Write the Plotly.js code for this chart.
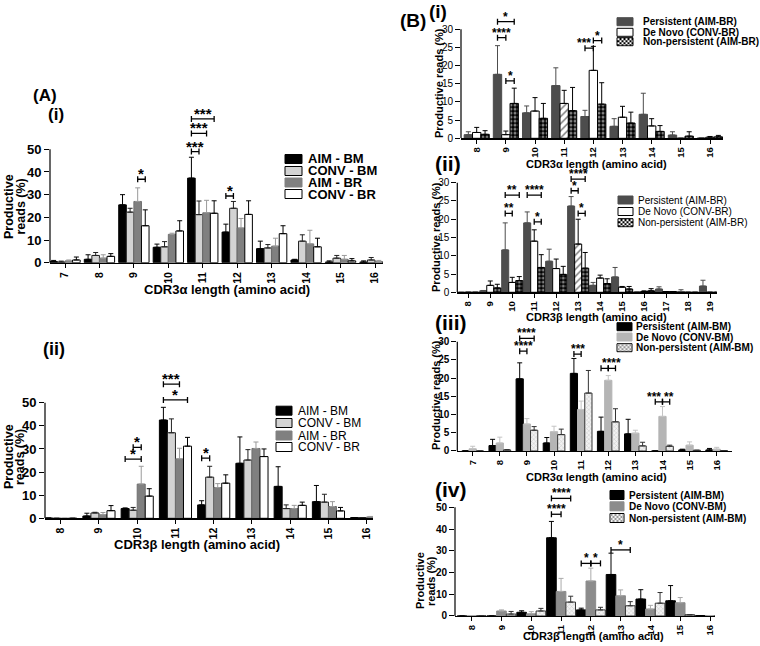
<!DOCTYPE html>
<html><head><meta charset="utf-8">
<script src="https://cdn.plot.ly/plotly-3.0.1.min.js"></script>
<style>html,body{margin:0;padding:0;background:#fff}#chart{width:760px;height:646px}</style>
</head><body><div id="chart"></div>
<script>
// ================= DATA =================
// Panel A(i): CDR3α length
const catsA1 = [7,8,9,10,11,12,13,14,15,16];
const a1AimBm     = [0.5,1.5,25.5,6.8,37.3,13.5,6.2,1.2,0.3,0.3];
const a1AimBmErr  = [0.5,2.0,4.5,1.4,9.2,3.5,3.3,0.3,0.5,0.5];
const a1ConvBm    = [0.3,3.2,22.3,7.0,21.2,24.0,6.5,9.5,2.0,1.2];
const a1ConvBmErr = [0.4,1.3,1.7,2.3,6.0,3.0,1.5,2.8,1.2,1.1];
const a1AimBr     = [0.8,2.0,27.0,12.5,22.0,15.3,7.3,8.3,1.5,0.5];
const a1AimBrErr  = [0.4,1.5,6.0,0.5,5.5,4.2,3.5,6.0,1.7,0.5];
const a1ConvBr    = [1.2,2.8,16.3,14.0,21.8,21.3,12.8,7.0,0.8,0.2];
const a1ConvBrErr = [1.3,1.2,7.0,4.5,5.5,6.0,3.5,3.8,1.0,0.2];

// Panel A(ii): CDR3β length
const catsA2 = [8,9,10,11,12,13,14,15,16];
const a2AimBm     = [0.1,1.0,4.2,42.5,5.8,23.8,13.8,7.2,0.3];
const a2AimBmErr  = [0,1.2,0.3,5.5,1.8,11.4,8.5,7.0,0];
const a2ConvBm    = [0,2.3,3.5,37.0,17.8,25.2,4.2,7.0,0.3];
const a2ConvBmErr = [0,0.3,1.2,6.0,4.7,4.5,1.6,3.4,0];
const a2AimBr     = [0,1.5,14.8,25.7,13.3,30.2,4.2,5.1,0.6];
const a2AimBrErr  = [0,1.0,7.7,4.6,1.7,2.8,1.4,2.1,0.2];
const a2ConvBr    = [0,3.3,9.6,31.2,15.2,26.7,5.6,3.2,0.4];
const a2ConvBrErr = [0,2.2,3.2,3.8,3.6,3.3,1.4,1.5,0];

// Panel B(i): CDR3α, BR
const catsB1 = [8,9,10,11,12,13,14,15,16];
const b1Pers      = [1.0,17.6,7.0,14.5,6.0,3.3,6.6,0.9,0.1];
const b1PersErr   = [0.8,7.9,1.9,4.9,1.7,2.1,5.8,0.9,0];
const b1DeNovo    = [1.6,1.0,7.5,9.6,18.7,5.8,3.4,0,0.3];
const b1DeNovoErr = [1.4,1.0,3.7,3.6,6.6,3.0,2.0,0,0.2];
const b1NonP      = [1.1,9.6,5.5,7.6,9.4,4.2,1.9,0.6,0.4];
const b1NonPErr   = [1.0,4.2,4.1,6.4,5.9,3.0,1.6,1.2,0.4];

// Panel B(ii): CDR3β, BR
const catsB2 = [8,9,10,11,12,13,14,15,16,17,18,19];
const b2Pers      = [0,0.4,11.6,19.0,8.5,23.6,1.9,4.2,0.1,0.9,0.2,1.7];
const b2PersErr   = [0,0.1,7.4,3.0,3.3,2.6,0.8,2.6,0,0.6,0.5,1.6];
const b2DeNovo    = [0,1.9,2.7,14.0,6.5,13.2,3.9,1.4,0.2,0.2,0,0];
const b2DeNovoErr = [0,1.2,1.4,3.1,2.6,6.8,0.8,0.2,0.2,0,0,0];
const b2NonP      = [0,1.2,3.2,6.8,4.9,6.6,2.4,0.9,0.4,0.2,0,0];
const b2NonPErr   = [0,1.0,1.1,3.5,2.2,4.3,1.3,0.7,0.6,0,0,0];

// Panel B(iii): CDR3α, BM
const catsB3 = [7,8,9,10,11,12,13,14,15,16];
const b3Pers      = [0,1.5,19.8,2.2,21.3,5.4,4.7,0,0.3,0.3];
const b3PersErr   = [0,1.7,4.4,1.5,4.1,3.9,4.0,0,0.2,0.4];
const b3DeNovo    = [0.6,2.2,7.4,5.3,11.4,19.4,4.9,9.5,1.6,0.5];
const b3DeNovoErr = [0.7,1.6,1.5,1.5,2.3,1.3,0.8,2.7,0.9,0.5];
const b3NonP      = [0,0.3,5.7,4.5,15.9,8.0,1.4,1.3,0.2,0.1];
const b3NonPErr   = [0,0.1,1.0,1.5,6.2,3.6,1.0,0.3,0,0];

// Panel B(iv): CDR3β, BM
const catsB4 = [8,9,10,11,12,13,14,15,16];
const b4Pers      = [0,0,1.7,36.0,2.8,19.1,7.8,7.0,0.2];
const b4PersErr   = [0,0,0.7,7.5,0.8,9.8,4.3,7.0,0];
const b4DeNovo    = [0,2.3,1.0,11.3,16.1,9.3,3.2,6.1,0.1];
const b4DeNovoErr = [0,0.5,1.0,6.0,5.9,2.7,1.7,2.4,0];
const b4NonP      = [0.1,0.9,2.3,6.4,2.8,4.7,5.9,0.6,0.2];
const b4NonPErr   = [0,1.2,1.2,2.7,1.2,1.9,4.9,0,0];

// Series names
const namesA  = ['AIM - BM','CONV - BM','AIM - BR','CONV - BR'];
const namesBR = ['Persistent (AIM-BR)','De Novo (CONV-BR)','Non-persistent (AIM-BR)'];
const namesBM = ['Persistent (AIM-BM)','De Novo (CONV-BM)','Non-persistent (AIM-BM)'];

// Significance comparisons: [category, series from, series to, level, label, label x-shift]
const sigA1 = [[9,2,3,36.8,'*'],[11,0,1,49,'***'],[11,0,2,57,'***'],[11,0,3,63.4,'***'],[12,0,1,29.4,'*']];
const sigA2 = [[10,1,2,30.7,'*'],[10,0,2,25.6,'*'],[11,0,2,58,'***'],[11,0,3,51.2,'*'],[12,0,1,26,'*']];
const sigB1 = [[9,0,1,27.7,'****'],[9,0,2,32.1,'*'],[9,1,2,15.8,'*'],[12,0,1,24.8,'***',-5],[12,1,2,26.9,'*']];
const sigB2 = [[10,0,1,21.6,'**'],[10,0,2,26.6,'**'],[11,0,2,26.6,'****'],[11,1,2,19.3,'*'],[13,0,1,27.8,'*'],[13,1,2,21.6,'*'],[13,0,2,31,'****']];
const sigB3 = [[9,0,1,27.4,'****'],[9,0,2,30.9,'****'],[11,0,1,26.6,'***'],[12,0,1,22.7,'****',7],[12,1,2,22.7,''],[14,0,1,13.5,'***',-5],[14,1,2,13.5,'**',3]];
const sigB4 = [[11,0,1,46.8,'****'],[11,0,2,54.1,'****'],[12,0,1,24.2,'*'],[12,1,2,24.2,'*'],[13,0,2,30.4,'*']];

// ================= STYLE / LAYOUT =================
const W = 760, H = 646;
const FONT = 'Liberation Sans, Arial, Helvetica, sans-serif';
const X = p => p / W, Y = p => 1 - p / H;

const checkerDark  = {shape:'.', fgcolor:'#ffffff', size:4, solidity:0.45, fillmode:'overlay'};
const checkerLight = {shape:'x', fgcolor:'#8a8a8a', size:3, solidity:0.25, fillmode:'overlay'};

const stA = [
  {color:'#000000', line:'#000000', err:'#000000'},
  {color:'#d3d3d3', line:'#222222', err:'#222222'},
  {color:'#808080', line:'#707070', err:'#9a9a9a'},
  {color:'#ffffff', line:'#000000', err:'#000000'}
];
const stBR = [
  {color:'#4d4d4d', line:'#4d4d4d', err:'#4d4d4d'},
  {color:'#ffffff', line:'#000000', err:'#000000'},
  {color:'#000000', line:'#000000', err:'#000000', pattern:checkerDark, sw:'dark'}
];
const stB3 = [
  {color:'#000000', line:'#000000', err:'#000000'},
  {color:'#b5b5b5', line:'#b5b5b5', err:'#c4c4c4'},
  {color:'#f2f2f2', line:'#333333', err:'#333333', pattern:checkerLight, sw:'light'}
];
const stB4 = [
  {color:'#000000', line:'#000000', err:'#000000'},
  {color:'#8c8c8c', line:'#8c8c8c', err:'#aaaaaa'},
  {color:'#f2f2f2', line:'#333333', err:'#333333', pattern:checkerLight, sw:'light'}
];

const panels = [
  {cats:catsA1, names:namesA, st:stA, vals:[a1AimBm,a1ConvBm,a1AimBr,a1ConvBr], errs:[a1AimBmErr,a1ConvBmErr,a1AimBrErr,a1ConvBrErr],
   sig:sigA1, xpx:[50,383], tick0:65, tick1:375, y0px:262.7, ytpx:149.3, tmax:50, dt:10, ytop:68, g:0.88,
   bold:true, tickSize:13, xTickSize:10.5, xBold:true, sigSize:15, sigShift:-5,
   xtitle:'CDR3α length (amino acid)', xt:[227,289.5], xtSize:13,
   ytitle:['Productive','reads (%)'], yt:[[9,207],[20.5,207]], ytSize:12.5,
   leg:{x:285,w:17,h:9,tx:306,rows:[159,171,182.5,194],size:13,bold:true}},
  {cats:catsA2, names:namesA, st:stA, vals:[a2AimBm,a2ConvBm,a2AimBr,a2ConvBr], errs:[a2AimBmErr,a2ConvBmErr,a2AimBrErr,a2ConvBrErr],
   sig:sigA2, xpx:[45,373], tick0:60.7, tick1:366.7, y0px:518.3, ytpx:402.7, tmax:50, dt:10, ytop:64, g:0.84,
   bold:true, tickSize:13, xTickSize:10.5, xBold:true, sigSize:15, sigShift:-5,
   xtitle:'CDR3β length (amino acid)', xt:[197,544], xtSize:13,
   ytitle:['Productive','reads (%)'], yt:[[9,457],[20,457]], ytSize:12.5,
   leg:{x:276,w:16,h:9,tx:296,rows:[410.7,423,435.5,447],size:12,bold:false}},
  {cats:catsB1, names:namesBR, st:stBR, vals:[b1Pers,b1DeNovo,b1NonP], errs:[b1PersErr,b1DeNovoErr,b1NonPErr], hatch:[11],
   sig:sigB1, xpx:[461,723], tick0:476.7, tick1:710, y0px:138.3, ytpx:29.3, tmax:30, dt:5, ytop:35, g:0.86,
   bold:false, tickSize:10, xTickSize:9.5, xBold:true, sigSize:12, sigShift:-4,
   xtitle:'CDR3α length (amino acid)', xt:[596.7,164], xtSize:11,
   ytitle:['Productive reads (%)'], yt:[[439,83]], ytSize:11,
   leg:{x:617,w:16,h:8,tx:641,rows:[21.7,32.3,41.7],size:10,bold:true}},
  {cats:catsB2, names:namesBR, st:stBR, vals:[b2Pers,b2DeNovo,b2NonP], errs:[b2PersErr,b2DeNovoErr,b2NonPErr], hatch:[13],
   sig:sigB2, xpx:[457.3,716.7], tick0:468.3, tick1:710, y0px:292.3, ytpx:182.7, tmax:30, dt:5, ytop:34, g:0.96,
   bold:false, tickSize:10, xTickSize:9.5, xBold:true, sigSize:12, sigShift:-4,
   xtitle:'CDR3β length (amino acid)', xt:[596.7,317], xtSize:11,
   ytitle:['Productive reads (%)'], yt:[[436,237]], ytSize:11,
   leg:{x:618,w:15,h:8,tx:636,rows:[200,211.5,222.7],size:10,bold:false}},
  {cats:catsB3, names:namesBM, st:stB3, vals:[b3Pers,b3DeNovo,b3NonP], errs:[b3PersErr,b3DeNovoErr,b3NonPErr],
   sig:sigB3, xpx:[457.3,732], tick0:472.7, tick1:716.7, y0px:451, ytpx:341.7, tmax:30, dt:5, ytop:33.5, g:0.8,
   bold:true, tickSize:10, xTickSize:9.5, xBold:true, sigSize:12, sigShift:-4,
   xtitle:'CDR3α length (amino acid)', xt:[596.7,476.7], xtSize:11,
   ytitle:['Productive reads (%)'], yt:[[436,395]], ytSize:11,
   leg:{x:617,w:15,h:8,tx:634,rows:[326.7,337,347.7],size:10,bold:true}},
  {cats:catsB4, names:namesBM, st:stB4, vals:[b4Pers,b4DeNovo,b4NonP], errs:[b4PersErr,b4DeNovoErr,b4NonPErr],
   sig:sigB4, xpx:[455,715], tick0:471.7, tick1:710, y0px:616, ytpx:507.3, tmax:50, dt:10, ytop:58, g:0.97,
   bold:true, tickSize:10, xTickSize:9.5, xBold:true, sigSize:12, sigShift:-4,
   xtitle:'CDR3β length (amino acid)', xt:[593,636], xtSize:11,
   ytitle:['Productive','reads (%)'], yt:[[420,581],[431,581]], ytSize:11,
   leg:{x:610,w:14,h:9,tx:627,rows:[495,506.3,518],size:10,bold:true}}
];

const panelLabels = [
  ['(A)',45,95,17],['(i)',56,114,17],['(ii)',54,349,18],
  ['(B)',413,20,19],['(i)',438,12,19],['(ii)',448,163,21],['(iii)',451,322,21],['(iv)',451,489,21]
];

const data = [], shapes = [], annotations = [];
const layout = {
  width:W, height:H, margin:{l:0,r:0,t:0,b:0}, paper_bgcolor:'#ffffff', plot_bgcolor:'rgba(0,0,0,0)',
  barmode:'overlay', showlegend:false, font:{family:FONT, color:'#000'}
};

function txt(text, xpx, ypx, size, bold, extra){
  return Object.assign({text, xref:'paper', yref:'paper', x:X(xpx), y:Y(ypx), showarrow:false,
    xanchor:'center', yanchor:'middle', font:{family:FONT, size, color:'#000', weight: bold ? 'bold' : 'normal'}}, extra||{});
}

function checkerPath(x0,y0,w,h,cell){
  let d = '';
  for (let i=0; i*cell < w; i++) for (let j=0; j*cell < h; j++) {
    if ((i+j)%2) continue;
    const a = x0+i*cell, b = y0+j*cell, a2 = Math.min(a+cell,x0+w), b2 = Math.min(b+cell,y0+h);
    d += `M${X(a)},${Y(b)}L${X(a2)},${Y(b)}L${X(a2)},${Y(b2)}L${X(a)},${Y(b2)}Z`;
  }
  return d;
}

panels.forEach((p, k) => {
  const n = k+1, xa = n===1?'x':'x'+n, ya = n===1?'y':'y'+n;
  const xaName = n===1?'xaxis':'xaxis'+n, yaName = n===1?'yaxis':'yaxis'+n;
  const c0 = p.cats[0], c1 = p.cats[p.cats.length-1];
  const s = (p.tick1 - p.tick0)/(c1 - c0);
  const ppu = (p.y0px - p.ytpx)/p.tmax;
  const w = p.g / p.vals.length;
  const tfont = {family:FONT, size:p.tickSize, color:'#000', weight:p.bold?'bold':'normal'};

  layout[xaName] = {domain:[X(p.xpx[0]), X(p.xpx[1])], range:[c0-(p.tick0-p.xpx[0])/s, c1+(p.xpx[1]-p.tick1)/s],
    anchor:ya, tickmode:'array', tickvals:p.cats, ticktext:p.cats.map(String), tickangle:-90,
    ticks:'outside', ticklen:4, tickwidth:1, tickcolor:'#000', showline:true, linecolor:'#000', linewidth:1.2,
    showgrid:false, zeroline:false, tickfont:{family:FONT, size:p.xTickSize, color:'#000', weight:p.xBold?'bold':'normal'}, fixedrange:true};
  const yticks = []; for (let v=0; v<=p.tmax; v+=p.dt) yticks.push(v);
  layout[yaName] = {domain:[Y(p.y0px), Y(p.y0px - p.ytop*ppu)], range:[0, p.ytop], anchor:xa,
    tickmode:'array', tickvals:yticks, ticks:'outside', ticklen:5, tickwidth:1, tickcolor:'#000',
    showline:false, showgrid:false, zeroline:false, tickfont:tfont, fixedrange:true};
  // y axis line (0 .. last tick)
  shapes.push({type:'line', xref:xa+' domain', yref:ya, x0:0, x1:0, y0:0, y1:p.tmax, line:{color:'#000', width:1.2}});

  p.vals.forEach((vals, i) => {
    const st = p.st[i];
    const marker = {color:st.color, line:{color:st.line, width:1}};
    if (st.pattern) marker.pattern = st.pattern;
    if (i===1 && p.hatch) marker.pattern = {shape:p.cats.map(c => p.hatch.includes(c)?'/':''), fgcolor:'#000', size:5, solidity:0.3, fillmode:'overlay'};
    data.push({type:'bar', x:p.cats, y:vals, name:p.names[i], xaxis:xa, yaxis:ya, width:w, offset:-p.g/2 + i*w,
      marker, error_y:{type:'data', symmetric:false, array:p.errs[i], arrayminus:p.errs[i].map(()=>0), color:st.err, thickness:1, width:2.5},
      hoverinfo:'x+y+name'});
  });

  // significance brackets
  const centre = (cat, i) => cat - p.g/2 + (i+0.5)*w;
  p.sig.forEach(([cat, a, b, lvl, label, dx]) => {
    const x0 = centre(cat, a), x1 = centre(cat, b);
    shapes.push({type:'line', xref:xa, yref:ya, x0, x1, y0:lvl, y1:lvl, line:{color:'#000', width:1.3}});
    [x0, x1].forEach(xe => shapes.push({type:'line', xref:xa, yref:ya, ysizemode:'pixel', yanchor:lvl, x0:xe, x1:xe, y0:-3, y1:3, line:{color:'#000', width:1.3}}));
    if (label) annotations.push({text:label, xref:xa, yref:ya, x:(x0+x1)/2, y:lvl, xanchor:'center', yanchor:'bottom',
      yshift:p.sigShift, xshift:dx||0, showarrow:false, font:{family:FONT, size:p.sigSize, color:'#000', weight:'bold'}});
  });

  // titles
  annotations.push(txt(p.xtitle, p.xt[0], p.xt[1], p.xtSize, true));
  p.ytitle.forEach((t, j) => annotations.push(txt(t, p.yt[j][0], p.yt[j][1], p.ytSize, true, {textangle:-90})));

  // legend (manual, compact)
  const L = p.leg;
  L.rows.forEach((ry, i) => {
    const st = p.st[i];
    const y0 = ry - L.h/2, y1 = ry + L.h/2;
    shapes.push({type:'rect', xref:'paper', yref:'paper', x0:X(L.x), x1:X(L.x+L.w), y0:Y(y1), y1:Y(y0),
      fillcolor: st.sw==='dark' ? '#000' : st.color, line:{color: st.sw ? '#000' : (st.color==='#ffffff'||st.color==='#d3d3d3' ? '#000' : st.color), width:1}});
    if (st.sw) shapes.push({type:'path', xref:'paper', yref:'paper', path:checkerPath(L.x+0.5, y0+0.5, L.w-1, L.h-1, 2),
      fillcolor: st.sw==='dark' ? '#ffffff' : '#9a9a9a', line:{width:0}});
    annotations.push(txt(p.names[i], L.tx, ry, L.size, L.bold, {xanchor:'left'}));
  });
});

panelLabels.forEach(([t, x, y, s]) => annotations.push(txt(t, x, y, s, true)));

layout.shapes = shapes;
layout.annotations = annotations;
Plotly.newPlot('chart', data, layout, {displayModeBar:false, staticPlot:true});
</script></body></html>
